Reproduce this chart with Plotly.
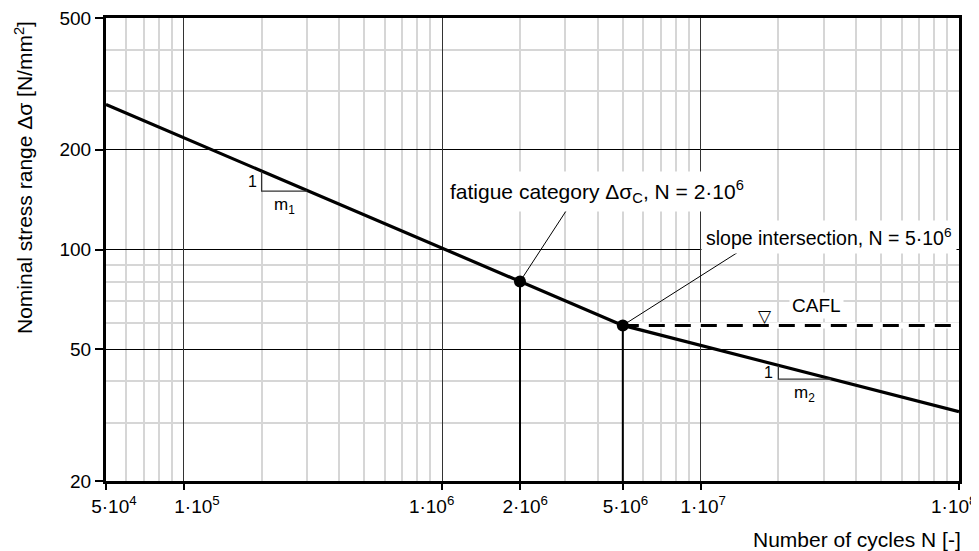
"""S-N curve (Woehler line) with fatigue category and CAFL, log-log axes."""

import math

import plotly.graph_objects as go

# --- data ------------------------------------------------------------------
sn_cycles = [5e4, 2e6, 5e6, 1e8]
sn_stress = [274, 80, 59, 32.4]

cafl_cycles = [5e6, 1e8]
cafl_stress = [59, 59]

point_cycles = [2e6, 5e6]
point_stress = [80, 59]

tri1_cycles = [2e5, 2e5, 3e5]
tri1_stress = [172, 150, 150]
tri2_cycles = [2e7, 2e7, 3.2e7]
tri2_stress = [44.6, 40.6, 40.6]

leader_fat_cycles = [2e6, 3.04e6]
leader_fat_stress = [80, 132]
leader_slope_cycles = [5e6, 1.42e7]
leader_slope_stress = [59, 99]

x_tick_vals = [5e4, 1e5, 1e6, 2e6, 5e6, 1e7, 1e8]
x_tick_text = ["5·10<sup>4</sup>", "1·10<sup>5</sup>", "1·10<sup>6</sup>",
               "2·10<sup>6</sup>", "5·10<sup>6</sup>", "1·10<sup>7</sup>",
               "1·10<sup>8</sup>"]
x_major_grid = [1e5, 1e6, 1e7]
x_minor_grid = [m * 10 ** e for e in (4, 5, 6, 7) for m in range(2, 10)
                if 5e4 < m * 10 ** e < 1e8]

y_tick_vals = [20, 50, 100, 200, 500]
y_tick_text = ["20", "50", "100", "200", "500"]
y_minor_grid = [30, 40, 60, 70, 80, 90, 300, 400]

FONT = "Liberation Sans, Arial, sans-serif"
X_RANGE = [math.log10(5e4), 8]
Y_RANGE = [math.log10(20), math.log10(500)]

# the reference nudges some x labels off their ticks; no-break spaces
# (positive = pad left / shift right, negative = pad right / shift left)
X_LABEL_NUDGE = [3, 5, -4, 2, 1, 1, -2]


def nudge(text, n):
    pad = "\u00a0" * abs(n)
    return pad + text if n > 0 else text + pad


fig = go.Figure()

# white halo under the CAFL line
fig.add_trace(go.Scatter(x=cafl_cycles, y=cafl_stress, mode="lines",
                         line=dict(color="white", width=6), hoverinfo="skip"))
fig.add_trace(go.Scatter(x=sn_cycles, y=sn_stress, mode="lines",
                         line=dict(color="black", width=3.2)))
fig.add_trace(go.Scatter(x=cafl_cycles, y=cafl_stress, mode="lines",
                         line=dict(color="black", width=3, dash="16px,10px")))

for n, s in zip(point_cycles, point_stress):
    fig.add_trace(go.Scatter(x=[n, n], y=[s, 20], mode="lines",
                             line=dict(color="black", width=2)))

for xs, ys in ((tri1_cycles, tri1_stress), (tri2_cycles, tri2_stress)):
    fig.add_trace(go.Scatter(x=xs, y=ys, mode="lines",
                             line=dict(color="#333333", width=1.2)))

for xs, ys in ((leader_fat_cycles, leader_fat_stress),
               (leader_slope_cycles, leader_slope_stress)):
    fig.add_trace(go.Scatter(x=xs, y=ys, mode="lines",
                             line=dict(color="black", width=1)))

fig.add_trace(go.Scatter(x=point_cycles, y=point_stress, mode="markers",
                         marker=dict(color="black", size=12)))

# extra overlaid axis that only carries the dark decade gridlines
fig.add_trace(go.Scatter(x=[1e6], y=[100], xaxis="x2", mode="markers",
                         marker=dict(opacity=0), hoverinfo="skip"))


def lx(v):
    return math.log10(v)


ann = [
    dict(x=6, y=lx(150), xanchor="left", yanchor="middle", xshift=2,
         text="fatigue category Δσ<sub>C</sub>, N = 2·10<sup>6</sup>",
         font=dict(size=21), bgcolor="white", borderpad=5),
    dict(x=8, y=lx(109), xanchor="right", yanchor="middle", xshift=-2,
         text="slope intersection, N = 5·10<sup>6</sup>",
         font=dict(size=19.5), bgcolor="white", borderpad=4),
    dict(x=lx(2.82e7), y=lx(67.7), xanchor="center", yanchor="middle",
         text="CAFL", font=dict(size=19), bgcolor="white", borderpad=2),
    dict(x=lx(1.78e7), y=lx(cafl_stress[0]), xanchor="center", yanchor="bottom",
         yshift=-3, text="▽", font=dict(size=17, family="DejaVu Sans")),
    dict(x=lx(tri1_cycles[0]), y=(lx(tri1_stress[0]) + lx(tri1_stress[1])) / 2,
         xanchor="right", yanchor="middle", xshift=-3, text="1",
         font=dict(size=16)),
    dict(x=(lx(tri1_cycles[0]) + lx(tri1_cycles[2])) / 2, y=lx(tri1_stress[1]),
         xanchor="center", yanchor="top", yshift=-2, text="m<sub>1</sub>",
         font=dict(size=17)),
    dict(x=lx(tri2_cycles[0]), y=(lx(tri2_stress[0]) + lx(tri2_stress[1])) / 2,
         xanchor="right", yanchor="middle", xshift=-3, text="1",
         font=dict(size=16)),
    dict(x=(lx(tri2_cycles[0]) + lx(tri2_cycles[2])) / 2, y=lx(tri2_stress[1]),
         xanchor="center", yanchor="top", yshift=-2, text="m<sub>2</sub>",
         font=dict(size=17)),
    dict(xref="paper", yref="paper", x=-0.097, y=0.655, xanchor="center",
         yanchor="middle", textangle=-90,
         text="Nominal stress range Δσ [N/mm<sup>2</sup>]", font=dict(size=21)),
    dict(xref="paper", yref="paper", x=1, y=-0.126, xanchor="right",
         yanchor="middle", xshift=4, text="Number of cycles N [-]",
         font=dict(size=21)),
]
for a in ann:
    a.setdefault("xref", "x")
    a.setdefault("yref", "y")
    a["showarrow"] = False
    a["font"].setdefault("family", FONT)
    a["font"]["color"] = "black"

# the page body adds an 8 px offset; margins are reduced by that amount
fig.update_layout(
    width=979,
    height=551,
    margin=dict(l=98, r=28, t=10, b=78),
    paper_bgcolor="white",
    plot_bgcolor="white",
    showlegend=False,
    font=dict(family=FONT, size=19, color="black"),
    annotations=ann,
    xaxis=dict(
        type="log", range=X_RANGE, tickmode="array",
        tickvals=x_tick_vals,
        ticktext=[nudge(t, n) for t, n in zip(x_tick_text, X_LABEL_NUDGE)],
        showgrid=False, zeroline=False, automargin=False,
        ticklabeloverflow="allow",
        showline=True, linecolor="black", linewidth=3, mirror=True,
        ticks="outside", ticklen=6, tickwidth=1.5, tickcolor="black",
        tickfont=dict(size=19),
        minor=dict(tickmode="array", tickvals=x_minor_grid, showgrid=True,
                   gridcolor="#d6d6d6", gridwidth=1.5, ticks=""),
    ),
    xaxis2=dict(
        type="log", range=X_RANGE, overlaying="x", anchor="y", side="bottom",
        tickmode="array", tickvals=x_major_grid, showticklabels=False,
        ticks="", showgrid=True, gridcolor="#333333", gridwidth=1,
        showline=False, zeroline=False, automargin=False,
    ),
    yaxis=dict(
        type="log", range=Y_RANGE, tickmode="array",
        tickvals=y_tick_vals, ticktext=y_tick_text,
        showgrid=True, gridcolor="black", gridwidth=1, zeroline=False,
        automargin=False, ticklabeloverflow="allow",
        showline=True, linecolor="black", linewidth=3, mirror=True,
        ticks="outside", ticklen=8, tickwidth=1.5, tickcolor="black",
        tickfont=dict(size=19),
        minor=dict(tickmode="array", tickvals=y_minor_grid, showgrid=True,
                   gridcolor="#d6d6d6", gridwidth=1.5, ticks=""),
    ),
)

fig.write_html("out.html")
